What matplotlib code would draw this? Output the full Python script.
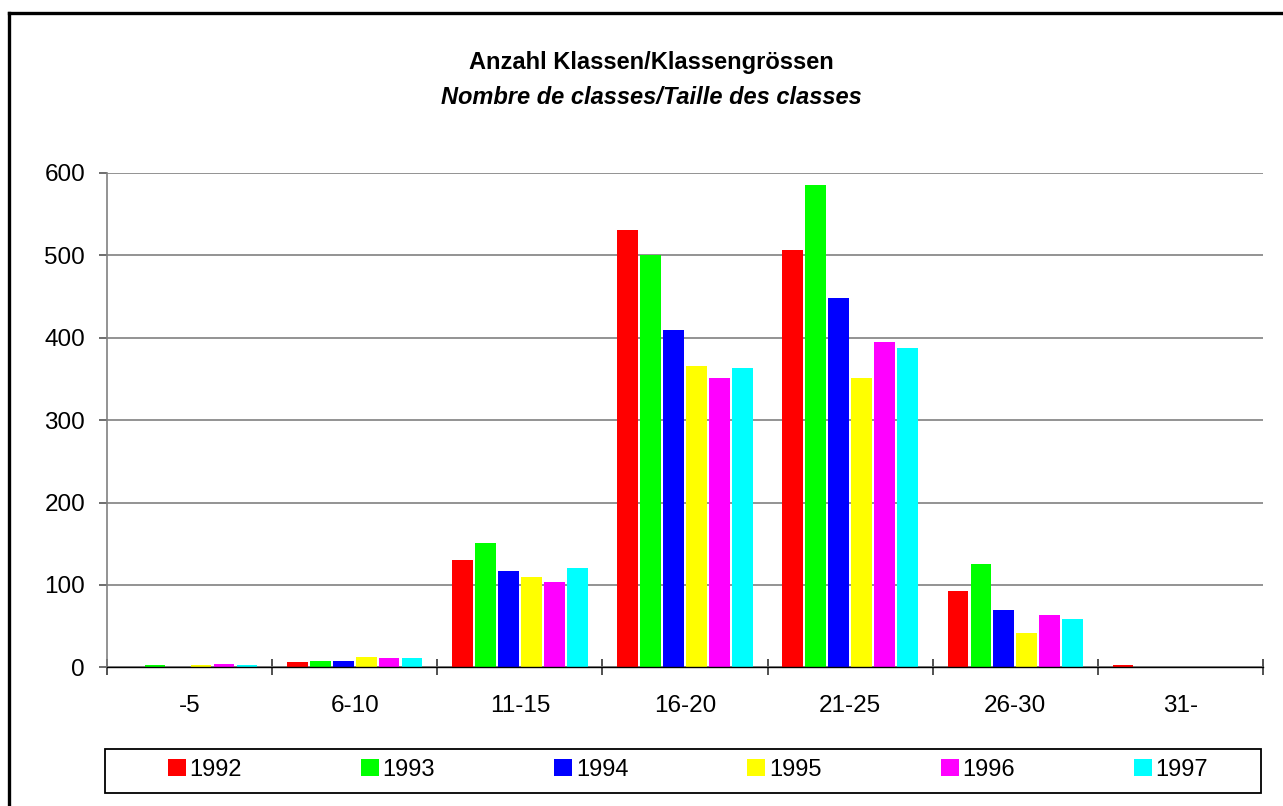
import matplotlib.pyplot as plt
import numpy as np
from matplotlib.patches import Rectangle
from matplotlib.lines import Line2D

plt.rcParams['font.family'] = ['Liberation Sans', 'DejaVu Sans']

categories = ['-5', '6-10', '11-15', '16-20', '21-25', '26-30', '31-']
years = ['1992', '1993', '1994', '1995', '1996', '1997']
colors = ['#ff0000', '#00ff00', '#0000ff', '#ffff00', '#ff00ff', '#00ffff']

v1992 = [0, 6, 130, 531, 507, 93, 3]
v1993 = [3, 8, 151, 500, 585, 125, 0]
v1994 = [0, 8, 117, 409, 448, 69, 0]
v1995 = [3, 13, 110, 366, 351, 42, 0]
v1996 = [4, 11, 103, 351, 395, 64, 0]
v1997 = [3, 11, 120, 363, 388, 59, 0]
series = [v1992, v1993, v1994, v1995, v1996, v1997]

W, H = 1283, 806
fig = plt.figure(figsize=(W / 100, H / 100), dpi=100)
ax = fig.add_axes([107 / W, 1 - 667.3 / H, (1263 - 107) / W, (667.3 - 173) / H])

x = np.arange(len(categories))
bw = 1 / 1.2 / 6
for i, (vals, c) in enumerate(zip(series, colors)):
    ax.bar(x - 0.5 / 1.2 + bw * (i + 0.5), vals, width=bw * 0.9, color=c,
           linewidth=0, label=years[i], zorder=3)

ax.set_xlim(-0.5, len(categories) - 0.5)
ax.set_ylim(0, 600)
ax.set_yticks(range(0, 601, 100))
ax.yaxis.grid(True, color='#808080', linewidth=1.2, zorder=0)
ax.set_axisbelow(True)

# category boundaries as ticks, labels in the middle
ax.set_xticks(np.arange(-0.5, len(categories)), minor=False)
ax.set_xticklabels([])
ax.set_xticks(x, minor=True)
ax.set_xticklabels(categories, minor=True)
ax.tick_params(axis='x', which='major', direction='inout', length=11.5, width=1.2, color='#333333')
ax.tick_params(axis='x', which='minor', length=0, pad=20, labelsize=17.5)
ax.tick_params(axis='y', direction='out', length=5.8, width=1.2, color='#555555',
               pad=10, labelsize=17.5)

for s in ['top', 'right']:
    ax.spines[s].set_visible(False)
ax.spines['left'].set_color('#808080')
ax.spines['left'].set_linewidth(1.2)
ax.spines['bottom'].set_color('black')
ax.spines['bottom'].set_linewidth(1.0)
ax.spines['bottom'].set_zorder(4)

fig.text(651 / W, 1 - 62 / H, 'Anzahl Klassen/Klassengrössen', ha='center', va='center',
         fontsize=17, fontweight='bold')
fig.text(651 / W, 1 - 97 / H, 'Nombre de classes/Taille des classes', ha='center', va='center',
         fontsize=17, fontweight='bold', fontstyle='italic')

# outer frame (only left and top edges fall inside the image)
fig.add_artist(Line2D([9 / W, 9 / W], [0, 1 - 13 / H], color='black', linewidth=2.4))
fig.add_artist(Line2D([9 / W, 1], [1 - 13 / H, 1 - 13 / H], color='black', linewidth=2.4))

# legend box
fig.add_artist(Rectangle((105 / W, 1 - 793 / H), (1261 - 105) / W, 44 / H,
                         transform=fig.transFigure, fill=False, edgecolor='black', linewidth=1.3))
fig.legend(loc='center left', bbox_to_anchor=(168 / W, 1 - 770 / H, (1208 - 168) / W, 0.001),
           mode='expand', ncol=6, frameon=False, fontsize=17, borderpad=0, borderaxespad=0,
           handlelength=0.76, handleheight=0.76, handletextpad=0.15, columnspacing=0)

fig.savefig('out.png', dpi=100)
